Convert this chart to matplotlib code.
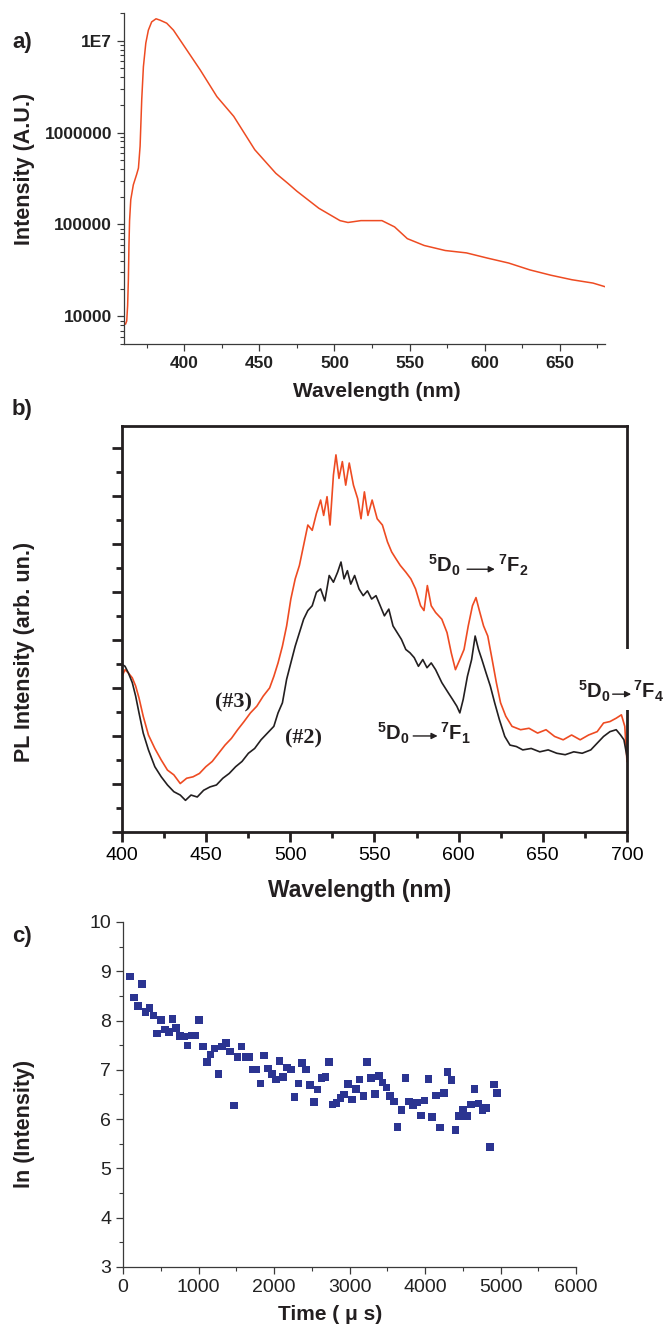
import matplotlib
matplotlib.use('Agg')
import matplotlib.pyplot as plt
from matplotlib.patches import Rectangle
from matplotlib.ticker import MultipleLocator, FixedLocator, LogLocator, NullFormatter, FuncFormatter

plt.rcParams['font.family'] = ['Liberation Sans', 'DejaVu Sans']
plt.rcParams['mathtext.fontset'] = 'custom'
plt.rcParams['mathtext.bf'] = 'Liberation Sans:bold'
plt.rcParams['mathtext.rm'] = 'Liberation Sans'
plt.rcParams['mathtext.default'] = 'bf'

# 面板 a：发射谱（对数坐标）
wl_a = [360, 361, 361.8, 362.4, 362.9, 363.3, 363.7, 364.5, 366.2, 368.4, 369.6, 370.7,
        371.8, 372.9, 374.5, 376.2, 378.4, 381.3, 384, 388.4, 392.9, 401.8, 410.7, 421.8,
        433, 447, 461, 469, 475, 489.6, 503.7, 509, 517.6, 531.6, 540, 548.5, 559.7,
        573.7, 587.8, 601.8, 615.9, 630, 644, 658, 672, 680]
int_a = [8.5e3, 8.2e3, 8.9e3, 1.3e4, 2.5e4, 6e4, 1.1e5, 1.86e5, 2.7e5, 3.5e5, 4.1e5, 7.1e5,
         2.3e6, 5.2e6, 9.4e6, 1.3e7, 1.6e7, 1.73e7, 1.67e7, 1.55e7, 1.3e7, 7.9e6, 4.8e6, 2.46e6,
         1.5e6, 6.5e5, 3.6e5, 2.8e5, 2.3e5, 1.5e5, 1.1e5, 1.05e5, 1.1e5, 1.1e5, 9.4e4, 7e4, 5.9e4,
         5.2e4, 4.9e4, 4.3e4, 3.8e4, 3.2e4, 2.8e4, 2.5e4, 2.3e4, 2.1e4]
ytick_a = [1e4, 1e5, 1e6, 1e7]
ytick_a_labels = ['10000', '100000', '1000000', '1E7']

# 面板 b：PL 光谱 (#3)
wl_b3 = [400.0, 401.8, 403.8, 406.1, 408.1, 410.1, 412.6, 415.7, 419.5, 423.3, 427.0, 430.8,
         434.6, 438.4, 442.2, 446.0, 449.8, 453.6, 457.4, 461.2, 465.0, 468.7, 472.5, 476.3,
         480.1, 483.9, 487.7, 490.2, 492.7, 495.3, 497.8, 500.3, 502.9, 505.4, 507.9, 510.4,
         513.0, 515.5, 518.0, 519.8, 521.8, 523.6, 525.6, 527.1, 528.9, 530.9, 532.9, 535.0,
         537.5, 540.0, 542.0, 544.0, 546.1, 548.6, 551.6, 554.7, 557.7, 560.2, 562.7, 565.3,
         568.6, 571.6, 574.4, 577.4, 579.4, 581.4, 583.7, 586.3, 590.0, 593.1, 595.6, 598.1,
         600.7, 603.2, 605.7, 608.2, 610.3, 612.3, 614.8, 617.3, 619.9, 622.4, 624.9, 628.0,
         631.7, 636.8, 641.8, 646.9, 651.9, 657.0, 662.1, 667.1, 672.2, 677.2, 682.3, 686.1,
         689.9, 693.6, 696.7, 698.7, 700.0]
pl_3 = [3.24, 3.38, 3.31, 3.21, 3.04, 2.79, 2.41, 2.02, 1.74, 1.50, 1.29, 1.19,
        1.01, 1.12, 1.15, 1.22, 1.36, 1.47, 1.64, 1.81, 1.95, 2.13, 2.30, 2.48,
        2.62, 2.83, 3.00, 3.24, 3.52, 3.87, 4.29, 4.85, 5.27, 5.55, 5.97, 6.39,
        6.28, 6.63, 6.91, 6.59, 6.98, 6.39, 7.43, 7.85, 7.36, 7.71, 7.22, 7.68,
        7.22, 6.94, 6.52, 7.08, 6.59, 6.91, 6.52, 6.39, 6.04, 5.83, 5.69, 5.55,
        5.41, 5.27, 5.06, 4.71, 4.61, 5.13, 4.71, 4.57, 4.43, 4.15, 3.73, 3.38,
        3.59, 3.80, 4.29, 4.71, 4.88, 4.61, 4.29, 4.08, 3.59, 3.11, 2.69, 2.41,
        2.20, 2.13, 2.16, 2.06, 2.13, 1.99, 1.92, 2.02, 1.92, 2.02, 2.09, 2.27,
        2.30, 2.37, 2.44, 2.20, 1.47]

# 面板 b：PL 光谱 (#2)
wl_b2 = [400.0, 401.8, 403.8, 406.1, 408.1, 410.1, 412.6, 415.7, 419.5, 423.3, 427.0, 430.8,
         434.6, 437.7, 441.0, 444.7, 448.5, 452.3, 456.1, 459.9, 463.7, 467.5, 471.3, 475.1,
         478.8, 482.6, 486.4, 490.2, 492.7, 495.3, 497.8, 500.3, 502.9, 505.4, 507.9, 510.4,
         513.0, 515.5, 518.0, 520.5, 523.1, 525.6, 528.1, 530.1, 531.9, 533.9, 535.9, 538.2,
         540.8, 543.3, 545.8, 548.3, 550.9, 553.4, 555.9, 558.5, 561.0, 563.5, 566.0, 568.6,
         571.1, 573.6, 576.1, 578.7, 581.2, 583.7, 586.3, 590.0, 593.8, 596.4, 598.9, 600.7,
         602.7, 605.2, 607.7, 609.8, 611.8, 613.8, 616.3, 618.8, 621.4, 624.2, 627.4, 630.5,
         634.3, 638.1, 643.1, 648.2, 653.2, 658.3, 663.3, 668.4, 673.4, 678.5, 682.3, 686.1,
         689.9, 693.6, 696.2, 698.2, 700.0]
pl_2 = [3.49, 3.45, 3.31, 3.11, 2.83, 2.48, 2.06, 1.71, 1.36, 1.15, 0.98, 0.84,
        0.77, 0.66, 0.77, 0.73, 0.87, 0.94, 0.98, 1.12, 1.22, 1.36, 1.47, 1.64,
        1.74, 1.92, 2.06, 2.20, 2.48, 2.69, 3.18, 3.52, 3.87, 4.15, 4.43, 4.61,
        4.71, 4.99, 5.06, 4.81, 5.34, 5.20, 5.41, 5.62, 5.27, 5.44, 5.16, 5.34,
        5.06, 4.92, 5.02, 4.85, 4.92, 4.71, 4.50, 4.64, 4.29, 4.15, 4.01, 3.80,
        3.73, 3.63, 3.45, 3.59, 3.42, 3.52, 3.38, 3.11, 2.90, 2.76, 2.62, 2.48,
        2.76, 3.24, 3.59, 4.08, 3.80, 3.59, 3.31, 3.04, 2.69, 2.34, 1.99, 1.81,
        1.78, 1.71, 1.74, 1.67, 1.71, 1.64, 1.61, 1.67, 1.64, 1.71, 1.85, 1.99,
        2.09, 2.13, 2.02, 1.92, 1.57]

# 面板 c：ln(强度) 随时间
t_c = [96, 147, 198, 249, 300, 351, 402, 453, 504, 555, 606, 657, 703, 754, 805, 856, 907, 958,
       1009, 1060, 1110, 1161, 1212, 1263, 1314, 1365, 1416, 1467, 1518, 1569, 1620, 1671, 1722,
       1768, 1819, 1870, 1921, 1972, 2023, 2074, 2119, 2170, 2221, 2272, 2323, 2374, 2425, 2476,
       2527, 2578, 2629, 2680, 2725, 2776, 2827, 2878, 2929, 2980, 3031, 3082, 3133, 3184, 3235,
       3286, 3337, 3388, 3439, 3490, 3535, 3586, 3637, 3688, 3739, 3790, 3841, 3892, 3943, 3994,
       4045, 4096, 4147, 4198, 4249, 4300, 4351, 4402, 4453, 4504, 4555, 4606, 4657, 4708, 4759,
       4810, 4861, 4912, 4957]
ln_c = [8.89, 8.47, 8.29, 8.74, 8.17, 8.26, 8.10, 7.74, 8.01, 7.82, 7.77, 8.03, 7.85, 7.69, 7.68,
        7.49, 7.70, 7.70, 8.01, 7.47, 7.16, 7.31, 7.43, 6.92, 7.47, 7.55, 7.37, 6.28, 7.26, 7.47,
        7.26, 7.26, 7.01, 7.01, 6.72, 7.29, 7.03, 6.91, 6.80, 7.18, 6.86, 7.05, 7.01, 6.45, 6.72,
        7.14, 7.01, 6.69, 6.35, 6.60, 6.83, 6.85, 7.16, 6.30, 6.33, 6.43, 6.50, 6.71, 6.40, 6.61,
        6.80, 6.47, 7.16, 6.83, 6.51, 6.88, 6.74, 6.64, 6.47, 6.36, 5.84, 6.18, 6.83, 6.36, 6.28,
        6.34, 6.07, 6.38, 6.82, 6.04, 6.48, 5.83, 6.53, 6.95, 6.79, 5.78, 6.06, 6.18, 6.06, 6.30,
        6.61, 6.32, 6.18, 6.22, 5.44, 6.70, 6.53]

orange = '#EE4B22'
black = '#231F20'
navy = '#2B3491'
axcol = '#3a3a3a'


def transition(ax, level, x_l, x_a0, x_a1, x_r, y, ya):
    # 5D0 --> 7Fx 标注，箭头单独画
    ax.text(x_l, y, r'$^{5}D_{0}$', fontsize=14.5, ha='right', va='center', color=black,
            zorder=6, clip_on=False)
    ax.annotate('', xy=(x_a1, ya), xytext=(x_a0, ya), annotation_clip=False, zorder=6,
                arrowprops=dict(arrowstyle='-|>', lw=1.0, color=black, mutation_scale=9,
                                shrinkA=0, shrinkB=0))
    ax.text(x_r, y, r'$^{7}F_{%d}$' % level, fontsize=14.5, ha='left', va='center', color=black,
            zorder=6, clip_on=False)


fig = plt.figure(figsize=(6.66, 13.26), dpi=100)

# ---------- a) ----------
ax1 = fig.add_axes([0.1862, 0.7406, 0.7222, 0.2496])
ax1.plot(wl_a, int_a, color=orange, lw=1.1)
ax1.set_yscale('log')
ax1.set_xlim(360, 680)
ax1.set_ylim(5000, 2e7)
for s in ['top', 'right']:
    ax1.spines[s].set_visible(False)
for s in ['left', 'bottom']:
    ax1.spines[s].set_color(axcol)
    ax1.spines[s].set_linewidth(0.9)
ax1.xaxis.set_major_locator(MultipleLocator(50))
ax1.xaxis.set_minor_locator(MultipleLocator(25))
ax1.yaxis.set_major_locator(FixedLocator(ytick_a))
ax1.yaxis.set_major_formatter(FuncFormatter(lambda v, p: ytick_a_labels[ytick_a.index(v)] if v in ytick_a else ''))
ax1.yaxis.set_minor_locator(LogLocator(base=10, subs=range(2, 10)))
ax1.yaxis.set_minor_formatter(NullFormatter())
ax1.tick_params(which='major', direction='out', length=5, width=0.9, color=axcol, labelsize=12.5)
ax1.tick_params(which='minor', direction='out', length=3, width=0.8, color=axcol)
for lab in ax1.get_xticklabels() + ax1.get_yticklabels():
    lab.set_fontweight('bold')
    lab.set_color('#222222')

# ---------- b) ----------
ax2 = fig.add_axes([0.1832, 0.3725, 0.7582, 0.3062])
ax2.plot(wl_b3, pl_3, color=orange, lw=1.2)
ax2.plot(wl_b2, pl_2, color=black, lw=1.2)
ax2.set_xlim(400, 700)
ax2.set_ylim(0, 8.45)
for s in ax2.spines.values():
    s.set_linewidth(2)
    s.set_color(black)
ax2.xaxis.set_major_locator(MultipleLocator(50))
ax2.xaxis.set_minor_locator(MultipleLocator(25))
ax2.yaxis.set_major_locator(MultipleLocator(1))
ax2.yaxis.set_minor_locator(MultipleLocator(0.5))
ax2.tick_params(which='major', direction='out', length=7, width=2, color=black, labelsize=14)
ax2.tick_params(which='minor', direction='out', length=4, width=2, color=black)
ax2.tick_params(axis='y', labelleft=False)

ax2.text(466, 2.69, '(#3)', family=['Liberation Serif'], fontweight='bold', fontsize=16,
         ha='center', va='center', color=black)
ax2.text(508, 1.95, '(#2)', family=['Liberation Serif'], fontweight='bold', fontsize=16,
         ha='center', va='center', color=black)

# 右侧 F4 标注处的白底，遮住右边框
ax2.add_patch(Rectangle((696, 2.55), 8, 1.25, facecolor='white', edgecolor='none',
                        clip_on=False, zorder=4))
transition(ax2, 2, 601.4, 605, 621.5, 623.5, 5.55, 5.47)
transition(ax2, 1, 571, 573, 587.5, 589, 2.06, 2.0)
transition(ax2, 4, 690.5, 691.5, 702.5, 703.5, 2.93, 2.87)

# ---------- c) ----------
ax3 = fig.add_axes([0.1847, 0.0445, 0.6802, 0.2602])
ax3.scatter(t_c, ln_c, marker='s', s=30, color=navy, edgecolors='none')
ax3.set_xlim(0, 6000)
ax3.set_ylim(3, 10)
for s in ['top', 'right']:
    ax3.spines[s].set_visible(False)
for s in ['left', 'bottom']:
    ax3.spines[s].set_color(axcol)
    ax3.spines[s].set_linewidth(0.9)
ax3.xaxis.set_major_locator(MultipleLocator(1000))
ax3.xaxis.set_minor_locator(MultipleLocator(500))
ax3.yaxis.set_major_locator(MultipleLocator(1))
ax3.yaxis.set_minor_locator(MultipleLocator(0.5))
ax3.tick_params(which='major', direction='out', length=5, width=0.9, color=axcol, labelsize=14,
                labelcolor='#222222')
ax3.tick_params(which='minor', direction='out', length=3, width=0.8, color=axcol)

# 标签
lab_kw = dict(fontweight='bold', color=black)
fig.text(0.033, 0.968, 'a)', fontsize=16, ha='center', va='center', **lab_kw)
fig.text(0.033, 0.6908, 'b)', fontsize=16, ha='center', va='center', **lab_kw)
fig.text(0.033, 0.2934, 'c)', fontsize=16, ha='center', va='center', **lab_kw)

fig.text(0.0375, 0.8725, 'Intensity (A.U.)', fontsize=15.5, rotation=90, ha='center', va='center', **lab_kw)
fig.text(0.0375, 0.5083, 'PL Intensity (arb. un.)', fontsize=15.5, rotation=90, ha='center', va='center', **lab_kw)
fig.text(0.0375, 0.1523, 'ln (Intensity)', fontsize=15.5, rotation=90, ha='center', va='center', **lab_kw)

fig.text(0.566, 0.7044, 'Wavelength (nm)', fontsize=15, ha='center', va='center', **lab_kw)
fig.text(0.5405, 0.3288, 'Wavelength (nm)', fontsize=16.5, ha='center', va='center', **lab_kw)
fig.text(0.4955, 0.0083, 'Time ( μ s)', fontsize=15, ha='center', va='center', **lab_kw)

fig.savefig('out.png', dpi=100)
